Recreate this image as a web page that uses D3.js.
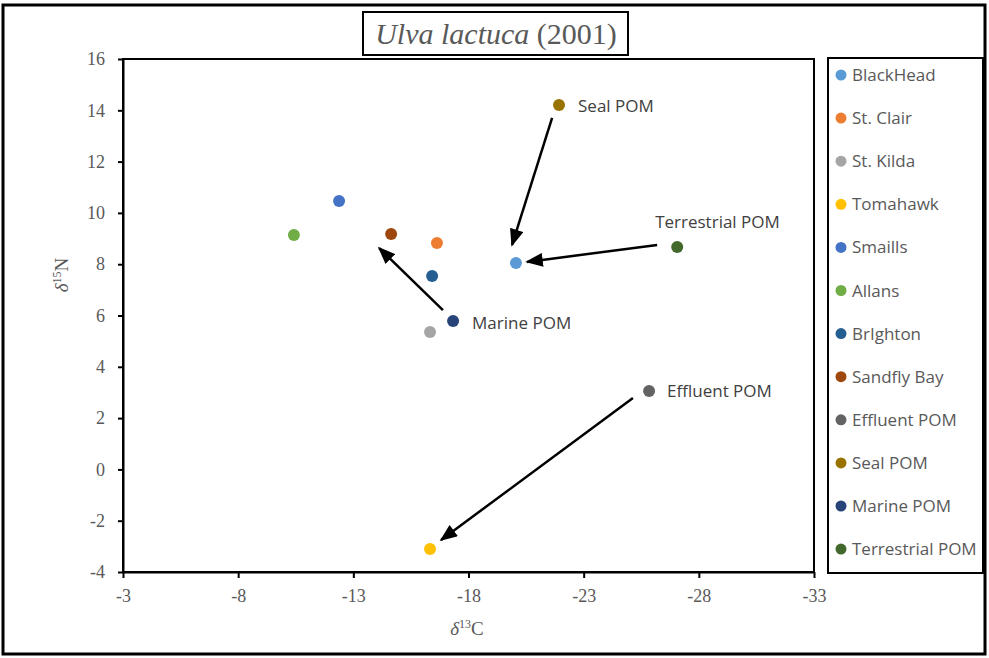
<!DOCTYPE html>
<html><head><meta charset="utf-8">
<script src="https://cdn.jsdelivr.net/npm/d3@7"></script>
<style>body{margin:0;background:#fff}</style>
</head><body><svg id="c" width="989" height="658"></svg>
<script>
const names = ["BlackHead","St. Clair","St. Kilda","Tomahawk","Smaills","Allans","BrIghton","Sandfly Bay","Effluent POM","Seal POM","Marine POM","Terrestrial POM"];
const d13C = [-20.06,-16.63,-16.33,-16.33,-12.38,-10.42,-16.42,-14.64,-25.84,-21.93,-17.33,-27.06];
const d15N = [8.05,8.83,5.36,-3.1,10.46,9.14,7.54,9.18,3.06,14.21,5.79,8.67];
const colors = ["#5B9BD5","#ED7D31","#A5A5A5","#FFC000","#4472C4","#70AD47","#255E91","#9E480E","#636363","#997300","#264478","#43682B"];
const xTicks = [-3,-8,-13,-18,-23,-28,-33];
const yTicks = [-4,-2,0,2,4,6,8,10,12,14,16];
const pointLabels = ["Seal POM","Terrestrial POM","Marine POM","Effluent POM"];
const labelDx = [19,-22,19,18];
const labelDy = [1,-25,2,0];
// arrows in data units
const arrowFromX = [-21.63,-26.19,-16.89,-25.14];
const arrowFromY = [13.70,8.75,6.21,2.78];
const arrowToX = [-19.89,-20.54,-14.12,-16.81];
const arrowToY = [8.75,8.09,8.63,-2.75];

const svg = d3.select("#c");
const L=123,R=814,T=59,B=572;
const x = d3.scaleLinear().domain([-3,-33]).range([L,R]);
const y = d3.scaleLinear().domain([-4,16]).range([B,T]);

svg.append("rect").attr("x",3).attr("y",5).attr("width",982).attr("height",649)
  .attr("fill","#fff").attr("stroke","#000").attr("stroke-width",3);

const defs = svg.append("defs");
defs.append("marker").attr("id","ah").attr("viewBox","0 0 10 8").attr("refX",9).attr("refY",4)
  .attr("markerWidth",18).attr("markerHeight",14).attr("markerUnits","userSpaceOnUse")
  .attr("orient","auto").append("path").attr("d","M0,0 L10,4 L0,8 z").attr("fill","#000");

// plot frame
svg.append("rect").attr("x",L).attr("y",T).attr("width",R-L).attr("height",B-T)
  .attr("fill","none").attr("stroke","#000").attr("stroke-width",2);

const fmt = d => String(d);
const xa = svg.append("g").attr("transform",`translate(0,${B})`)
  .call(d3.axisBottom(x).tickValues(xTicks).tickFormat(fmt).tickSize(6).tickSizeOuter(0).tickPadding(11));
const ya = svg.append("g").attr("transform",`translate(${L},0)`)
  .call(d3.axisLeft(y).tickValues(yTicks).tickFormat(fmt).tickSize(5).tickSizeOuter(0).tickPadding(13));
[xa,ya].forEach(a=>{
  a.select(".domain").attr("stroke","#000").attr("stroke-width",2);
  a.selectAll(".tick line").attr("stroke","#000").attr("stroke-width",2);
  a.selectAll(".tick text").attr("fill","#595959").attr("font-family","Liberation Serif")
   .attr("font-size",18);
});

// axis titles
const xt = svg.append("text").attr("x",467).attr("y",635).attr("text-anchor","middle")
  .attr("font-family","Liberation Serif").attr("font-size",19).attr("fill","#595959");
xt.append("tspan").attr("font-style","italic").text("δ");
xt.append("tspan").attr("font-size",12).attr("dy",-7).text("13");
xt.append("tspan").attr("dy",7).text("C");
const yt = svg.append("text").attr("transform","translate(68,275) rotate(-90)").attr("text-anchor","middle")
  .attr("font-family","Liberation Serif").attr("font-size",19).attr("fill","#595959");
yt.append("tspan").attr("font-style","italic").text("δ");
yt.append("tspan").attr("font-size",12).attr("dy",-7).text("15");
yt.append("tspan").attr("dy",7).text("N");

// arrows
svg.selectAll("line.arr").data(arrowFromX).enter().append("line").attr("class","arr")
  .attr("x1",(d,i)=>x(d)).attr("y1",(d,i)=>y(arrowFromY[i]))
  .attr("x2",(d,i)=>x(arrowToX[i])).attr("y2",(d,i)=>y(arrowToY[i]))
  .attr("stroke","#000").attr("stroke-width",2.5).attr("marker-end","url(#ah)");

// points
svg.selectAll("circle.pt").data(names).enter().append("circle").attr("class","pt")
  .attr("cx",(d,i)=>x(d13C[i])).attr("cy",(d,i)=>y(d15N[i])).attr("r",6)
  .attr("fill",(d,i)=>colors[i]);

// point labels
pointLabels.forEach((n,k)=>{
  const i = names.indexOf(n);
  svg.append("text").attr("x",x(d13C[i])+labelDx[k]).attr("y",y(d15N[i])+labelDy[k]+6)
    .attr("font-family","'Open Sans', sans-serif").attr("font-size",17).attr("fill","#404040").text(n);
});

// title
svg.append("rect").attr("x",363).attr("y",12).attr("width",265).attr("height",43)
  .attr("fill","#fff").attr("stroke","#000").attr("stroke-width",2);
const tt = svg.append("text").attr("x",496).attr("y",44).attr("text-anchor","middle")
  .attr("font-family","Liberation Serif").attr("font-size",30).attr("fill","#595959");
tt.append("tspan").attr("font-style","italic").text("Ulva lactuca");
tt.append("tspan").text(" (2001)");

// legend
svg.append("rect").attr("x",828).attr("y",58).attr("width",155).attr("height",515)
  .attr("fill","#fff").attr("stroke","#000").attr("stroke-width",2);
const lg = svg.selectAll("g.lg").data(names).enter().append("g").attr("class","lg")
  .attr("transform",(d,i)=>`translate(841,${75+i*43.1})`);
lg.append("circle").attr("r",5.5).attr("fill",(d,i)=>colors[i]);
lg.append("text").attr("x",11).attr("y",6).attr("font-family","'Open Sans', sans-serif")
  .attr("font-size",17).attr("fill","#595959").text(d=>d);
</script></body></html>
